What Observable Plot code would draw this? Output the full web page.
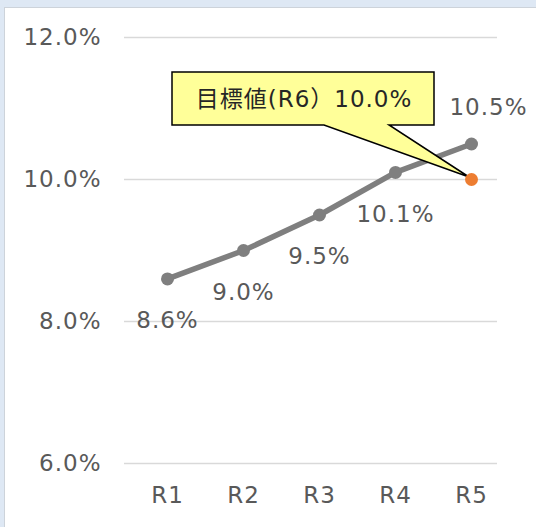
<!DOCTYPE html>
<html>
<head>
<meta charset="utf-8">
<script src="https://cdn.jsdelivr.net/npm/d3@7"></script>
<script src="https://cdn.jsdelivr.net/npm/@observablehq/plot@0.6"></script>
<style>
  html, body { margin: 0; padding: 0; background: #dee8f4; }
  #outer { width: 536px; height: 527px; box-sizing: border-box; padding: 7px 0 0 4px; background: #dee8f4; overflow: hidden; }
  #inner { width: 532px; height: 520px; box-sizing: border-box; border-top: 1px solid #cdd3da; border-left: 1px solid #cdd3da; background: #fff; }
  #inner svg { display: block; }
</style>
</head>
<body>
<div id="outer"><div id="inner"></div></div>
<script>
const categories = ["R1", "R2", "R3", "R4", "R5"];
const rates = [8.6, 9.0, 9.5, 10.1, 10.5];
const targetCategory = "R5";
const targetValue = 10.0;
const targetLabel = "目標値(R6）10.0%";
const yTicks = [6, 8, 10, 12];

const data = categories.map((c, i) => ({cat: c, v: rates[i]}));
const target = [{cat: targetCategory, v: targetValue}];
const fmt = d => d.toFixed(1) + "%";

const FONT = "'DejaVu Sans', 'Noto Sans CJK JP', sans-serif";

function callout(index, scales) {
  const tx = scales.x(targetCategory);
  const ty = scales.y(targetValue);
  const L = tx - 299, R = tx - 37, T = ty - 107, B = ty - 54;
  const b1 = tx - 147, b2 = tx - 82;
  const g = d3.create("svg:g");
  g.append("path")
    .attr("d", `M${L},${T}H${R}V${B}H${b2}L${tx - 2},${ty - 2}L${b1},${B}H${L}Z`)
    .attr("fill", "#ffff99")
    .attr("stroke", "#000")
    .attr("stroke-width", 1.5)
    .attr("stroke-linejoin", "miter");
  g.append("text")
    .attr("x", (L + R) / 2 + 1)
    .attr("y", (T + B) / 2)
    .attr("dy", "0.35em")
    .attr("text-anchor", "middle")
    .attr("fill", "#262626")
    .attr("font-size", 23)
    .attr("letter-spacing", "1px")
    .attr("font-family", FONT)
    .text(targetLabel);
  return g.node();
}

const chart = Plot.plot({
  width: 531,
  height: 519,
  marginLeft: 119,
  marginRight: 39,
  marginTop: 29,
  marginBottom: 64,
  style: {fontFamily: FONT, fontSize: "23px", letterSpacing: "1px", color: "#595959", background: "#fff", overflow: "visible"},
  x: {type: "point", domain: categories, range: [160, 467], padding: 0, tickSize: 0, tickPadding: 23, label: null},
  y: {domain: [6, 12], ticks: yTicks, tickFormat: fmt, tickSize: 0, tickPadding: 23, label: null},
  marks: [
    Plot.ruleY(yTicks, {stroke: "#d9d9d9", strokeWidth: 1.5}),
    Plot.line(data, {x: "cat", y: "v", stroke: "#7f7f7f", strokeWidth: 5.5}),
    Plot.dot(data, {x: "cat", y: "v", r: 6.5, fill: "#7f7f7f", stroke: null}),
    Plot.text(data.slice(0, 4), {x: "cat", y: "v", text: d => fmt(d.v), dy: 42, fill: "#595959", fontSize: 23}),
    Plot.text(data.slice(4), {x: "cat", y: "v", text: d => fmt(d.v), dy: -36, dx: 17, fill: "#595959", fontSize: 23}),
    callout,
    Plot.dot(target, {x: "cat", y: "v", r: 6.5, fill: "#ed7d31", stroke: null})
  ]
});
document.getElementById("inner").appendChild(chart);
</script>
</body>
</html>
